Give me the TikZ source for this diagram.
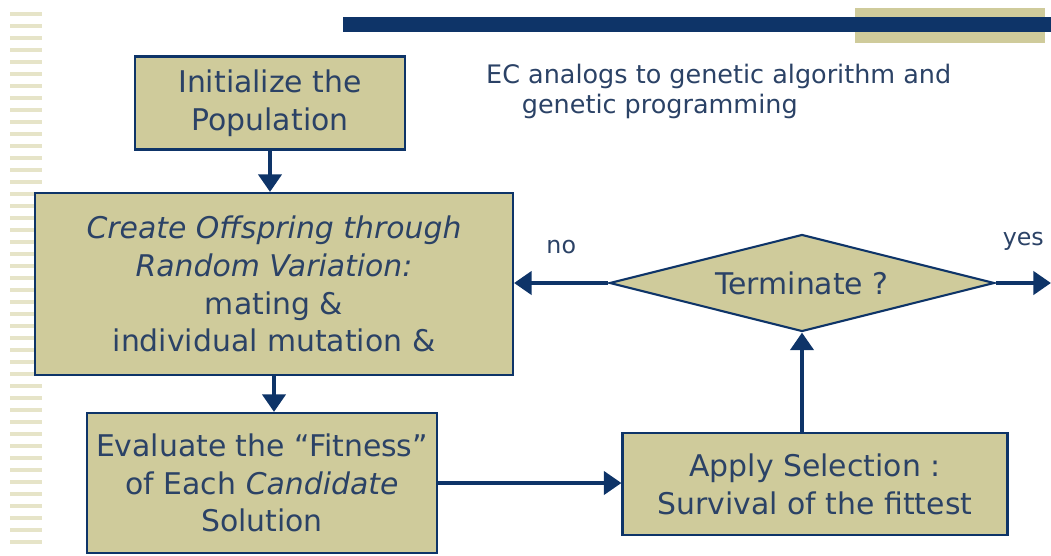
\documentclass[tikz,border=0pt]{standalone}
\usepackage{fontspec}
\setmainfont{DejaVu Sans}
\usetikzlibrary{arrows.meta,positioning,shapes.geometric,calc}
\definecolor{khaki}{HTML}{CFCB9B}
\definecolor{lightkhaki}{HTML}{E6E4C8}
\definecolor{navy}{HTML}{0E3468}
\definecolor{inkblue}{HTML}{2B4266}
\tikzset{
  stepbox/.style={draw=navy,line width=1.2pt,fill=khaki,text=inkblue,align=center,
    font=\fontsize{17}{21.5}\selectfont,inner sep=2pt},
  testbox/.style={stepbox,diamond,aspect=4},
  flow/.style={draw=navy,line width=2.8pt,-{Triangle[length=10pt,width=13pt]}},
  tag/.style={text=inkblue,font=\fontsize{13.5}{16}\selectfont}
}
\begin{document}
\begin{tikzpicture}[x=0.02cm,y=-0.02cm]
\useasboundingbox (0,0) rectangle (1051,555);
% left stripes and top bar
\foreach \y in {12,24,...,550}
  \fill[lightkhaki] (10,\y) rectangle (42,\y+4);
\fill[khaki] (855,8) rectangle (1045,43);
\fill[navy] (343,17) rectangle (1051,32);
% title
\node[text=inkblue,align=left,anchor=north west,font=\fontsize{14.5}{17}\selectfont]
  (title) at (480,58) {EC analogs to genetic algorithm and\\\hspace{1.4em}genetic programming};
% steps
\node[stepbox,minimum width=5.4cm,minimum height=1.86cm] (init) at (270,103) {Initialize the\\Population};
\node[stepbox,minimum width=9.56cm,minimum height=3.64cm] (create) at (274,284)
  {\itshape Create Offspring through\\\itshape Random Variation:\\mating \&\\individual mutation \&};
\node[stepbox,minimum width=7cm,minimum height=2.8cm] (eval) at (262,483)
  {Evaluate the “Fitness”\\of Each \textit{Candidate}\\Solution};
\node[stepbox,minimum width=7.7cm,minimum height=2.04cm] (select) at (815,484)
  {Apply Selection :\\Survival of the fittest};
\node[testbox,minimum width=7.7cm,minimum height=1.94cm] (stop) at (802,283) {Terminate ?};
\coordinate (out) at (1051,283);
% connectors
\draw[flow] (init) -- (init|-create.north);
\draw[flow] (create) -- (create|-eval.north);
\draw[flow] (eval) -- (eval-|select.west);
\draw[flow] (select.north-|stop) -- (stop);
\draw[flow] (stop) -- (create.east|-stop) node[tag,pos=0.5,above=12pt] {no};
\draw[flow] (stop.east) -- (out) node[tag,pos=0.5,above=14pt] {yes};
\end{tikzpicture}
\end{document}
